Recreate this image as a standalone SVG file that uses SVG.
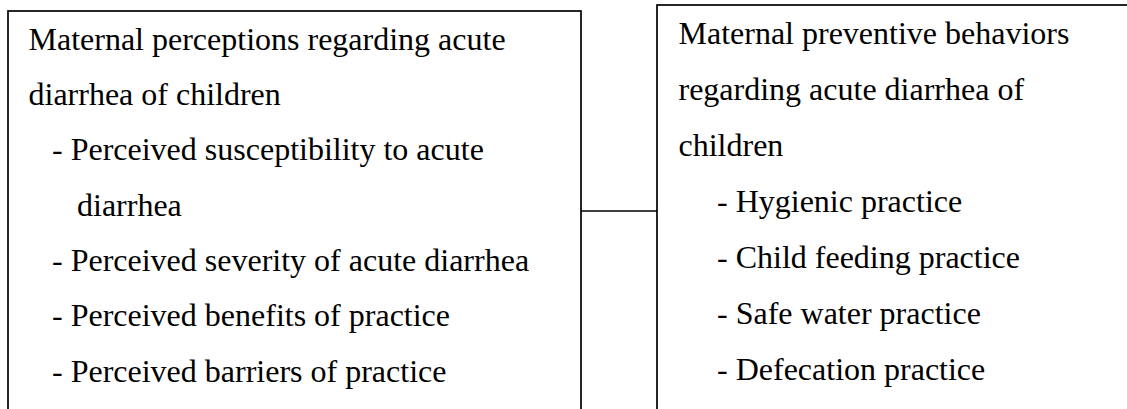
<svg xmlns="http://www.w3.org/2000/svg" width="1127" height="409" viewBox="0 0 1127 409">
<style>
.box{fill:#fff;stroke:#000;stroke-width:1.7}
.t{font-family:"Liberation Serif","Times New Roman",serif;font-size:32px;fill:#000}
.c{stroke:#000;stroke-width:1.7;fill:none}
</style>
<rect width="1127" height="409" fill="#fff"/>
<g id="connectors">
<line class="c" x1="581" y1="211" x2="657" y2="211"/>
</g>
<g id="perceptions">
<rect class="box" x="8" y="11" width="573" height="420"/>
<text class="t" x="28.5" y="50">Maternal perceptions regarding acute</text>
<text class="t" x="28.5" y="105">diarrhea of children</text>
<text class="t" x="52" y="160">- Perceived susceptibility to acute</text>
<text class="t" x="77" y="216">diarrhea</text>
<text class="t" x="52" y="271">- Perceived severity of acute diarrhea</text>
<text class="t" x="52" y="326">- Perceived benefits of practice</text>
<text class="t" x="52" y="382">- Perceived barriers of practice</text>
</g>
<g id="behaviors">
<rect class="box" x="657" y="5" width="500" height="430"/>
<text class="t" x="678.5" y="44">Maternal preventive behaviors</text>
<text class="t" x="678.5" y="100">regarding acute diarrhea of</text>
<text class="t" x="678.5" y="156">children</text>
<text class="t" x="717" y="212">- Hygienic practice</text>
<text class="t" x="717" y="268">- Child feeding practice</text>
<text class="t" x="717" y="324">- Safe water practice</text>
<text class="t" x="717" y="380">- Defecation practice</text>
</g>
</svg>
